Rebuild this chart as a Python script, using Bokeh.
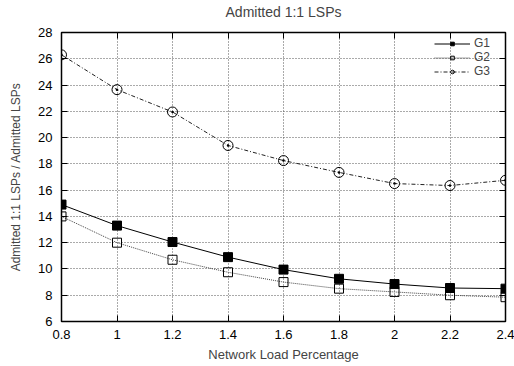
from bokeh.plotting import figure
from bokeh.models import Range1d, FixedTicker, LinearAxis, Legend, LegendItem
from bokeh.embed import file_html
from bokeh.resources import INLINE

load = [0.8, 1.0, 1.2, 1.4, 1.6, 1.8, 2.0, 2.2, 2.4]
g1 = [14.9, 13.3, 12.05, 10.9, 9.95, 9.25, 8.85, 8.55, 8.5]
g2 = [14.0, 12.0, 10.7, 9.75, 9.0, 8.5, 8.25, 8.0, 7.85]
g3 = [26.3, 23.65, 21.95, 19.4, 18.25, 17.35, 16.5, 16.35, 16.75]
x_ticks = [0.8, 1.0, 1.2, 1.4, 1.6, 1.8, 2.0, 2.2, 2.4]
x_tick_labels = ["0.8", "1", "1.2", "1.4", "1.6", "1.8", "2", "2.2", "2.4"]
y_ticks = [6, 8, 10, 12, 14, 16, 18, 20, 22, 24, 26, 28]

FONT = "Liberation Sans"

p = figure(width=514, height=366, output_backend="svg", toolbar_location=None,
           x_range=Range1d(0.8, 2.4), y_range=Range1d(6, 28),
           min_border_left=61, min_border_right=9, min_border_top=31, min_border_bottom=45)

p.outline_line_color = "black"
p.outline_line_width = 1.5
p.background_fill_color = "white"
p.border_fill_color = "white"

for ax in (p.xaxis[0], p.yaxis[0]):
    ax.major_label_text_font = FONT
    ax.major_label_text_font_size = "13px"
    ax.major_label_text_color = "black"
    ax.axis_label_text_font = FONT
    ax.axis_label_text_font_style = "normal"
    ax.axis_line_color = None
    ax.major_tick_in = 6
    ax.major_tick_out = 0
    ax.minor_tick_line_color = None
    ax.major_tick_line_color = "black"

p.xaxis.axis_label_text_font_size = "13px"
p.yaxis.axis_label_text_font_size = "12px"
p.xaxis.ticker = FixedTicker(ticks=x_ticks)
p.yaxis.ticker = FixedTicker(ticks=y_ticks)
p.xaxis.major_label_overrides = dict(zip(x_ticks, x_tick_labels))
p.xaxis.axis_label = "Network Load Percentage"
p.yaxis.axis_label = "Admitted 1:1 LSPs / Admitted LSPs"
p.xaxis.major_label_standoff = 8
p.yaxis.major_label_standoff = 9
p.xaxis.axis_label_standoff = 5
p.yaxis.axis_label_standoff = 12

# top axis: mirrored ticks, carries the chart title as its axis label
top = LinearAxis(ticker=FixedTicker(ticks=x_ticks), axis_line_color=None,
                 major_tick_in=6, major_tick_out=0, minor_tick_line_color=None,
                 major_label_overrides={t: "" for t in x_ticks}, major_label_standoff=0,
                 major_label_text_font_size="1px",
                 axis_label="Admitted 1:1 LSPs", axis_label_text_font=FONT,
                 axis_label_text_font_size="14px", axis_label_text_font_style="normal",
                 axis_label_standoff=13)
right = LinearAxis(ticker=FixedTicker(ticks=y_ticks), axis_line_color=None,
                   major_tick_in=6, major_tick_out=0, minor_tick_line_color=None,
                   major_label_overrides={t: "" for t in y_ticks}, major_label_standoff=0,
                   major_label_text_font_size="1px")
p.add_layout(top, "above")
p.add_layout(right, "right")

for g in (p.xgrid[0], p.ygrid[0]):
    g.grid_line_color = "#555555"
    g.grid_line_dash = "1 2"
    g.grid_line_width = 1

l1 = p.line(load, g1, line_color="black", line_width=1)
m1 = p.scatter(load, g1, marker="square", size=9, fill_color="black", line_color="black")
l2 = p.line(load, g2, line_color="#444444", line_width=1, line_dash="1 1")
m2 = p.scatter(load, g2, marker="square", size=9, fill_color="white", fill_alpha=0,
               line_color="black", line_width=1)
l3 = p.line(load, g3, line_color="#222222", line_width=1, line_dash="4 2 1 2")
m3 = p.scatter(load, g3, marker="circle_dot", size=10, fill_color="white", fill_alpha=0,
               line_color="black", line_width=1)

legend = Legend(items=[LegendItem(label="G1", renderers=[l1, m1]),
                       LegendItem(label="G2", renderers=[l2, m2]),
                       LegendItem(label="G3", renderers=[l3, m3])],
                location=(373, 243), border_line_color=None, background_fill_alpha=0,
                label_text_font=FONT, label_text_font_size="12px",
                label_text_line_height=0.9,
                label_height=9, glyph_height=9, glyph_width=36, spacing=0,
                padding=1, margin=0, label_standoff=4)
p.add_layout(legend)

html = file_html(p, INLINE)
open("out.html", "w").write(html)
